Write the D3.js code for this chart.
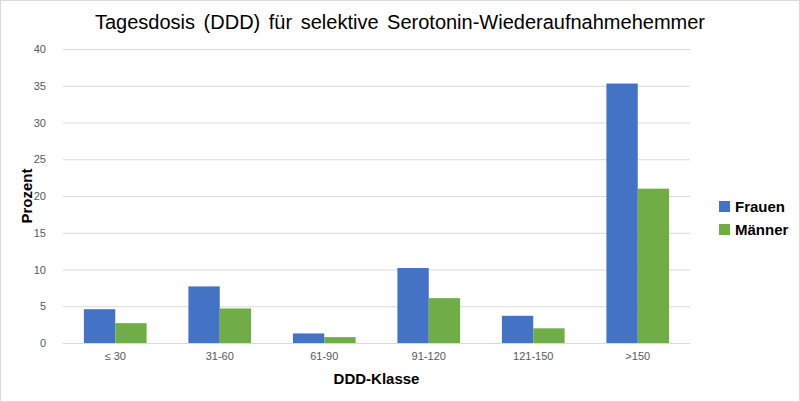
<!DOCTYPE html>
<html><head><meta charset="utf-8">
<script src="https://cdn.jsdelivr.net/npm/d3@7"></script>
<style>body{margin:0;background:#fff}svg{font-family:Arial,"Liberation Sans",sans-serif}</style>
</head><body>
<svg id="chart" width="800" height="402"></svg>
<script>
var categories = ["≤ 30", "31-60", "61-90", "91-120", "121-150", ">150"];
var frauen = [4.6, 7.7, 1.3, 10.2, 3.7, 35.3];
var maenner = [2.7, 4.7, 0.8, 6.1, 2.0, 21.0];
var seriesNames = ["Frauen", "Männer"];
var colors = ["#4472C4", "#70AD47"];
var yTicks = [0, 5, 10, 15, 20, 25, 30, 35, 40];

(function() {
  var svg = d3.select("#chart");
  svg.append("rect").attr("x", 0.5).attr("y", 0.5).attr("width", 799).attr("height", 401)
    .attr("fill", "#fff").attr("stroke", "#d9d9d9");

  var plotLeft = 63, plotRight = 690, plotTop = 49, plotBottom = 343;
  var x = d3.scaleBand().domain(categories).range([plotLeft, plotRight]).paddingInner(0.4).paddingOuter(0.2);
  var xs = d3.scaleBand().domain(seriesNames).range([0, x.bandwidth()]);
  var y = d3.scaleLinear().domain([0, 40]).range([plotBottom, plotTop]);

  svg.append("g").selectAll("line").data(yTicks).join("line")
    .attr("x1", plotLeft).attr("x2", plotRight).attr("y1", d => y(d) + 0.5).attr("y2", d => y(d) + 0.5)
    .attr("stroke", "#d9d9d9");

  svg.append("g").selectAll("text").data(yTicks).join("text")
    .attr("x", plotLeft - 17).attr("y", d => y(d) + 4).attr("text-anchor", "end")
    .attr("font-size", 11).attr("fill", "#595959").text(d => d);

  var data = categories.map((c, i) => ({c: c, vals: [frauen[i], maenner[i]]}));
  var g = svg.append("g").selectAll("g").data(data).join("g")
    .attr("transform", d => "translate(" + x(d.c) + ",0)");
  g.selectAll("rect").data(d => d.vals.map((v, k) => ({k: k, v: v}))).join("rect")
    .attr("x", d => xs(seriesNames[d.k])).attr("width", xs.bandwidth())
    .attr("y", d => y(d.v)).attr("height", d => plotBottom - y(d.v))
    .attr("fill", d => colors[d.k]);

  svg.append("line").attr("x1", plotLeft).attr("x2", plotRight)
    .attr("y1", plotBottom + 0.5).attr("y2", plotBottom + 0.5).attr("stroke", "#d9d9d9");

  svg.append("g").selectAll("text").data(categories).join("text")
    .attr("x", d => x(d) + x.bandwidth() / 2).attr("y", plotBottom + 17).attr("text-anchor", "middle")
    .attr("font-size", 11).attr("fill", "#595959").text(d => d);

  svg.append("text").attr("x", 400).attr("y", 29).attr("text-anchor", "middle")
    .attr("font-size", 20).attr("fill", "#000").attr("word-spacing", 3)
    .text("Tagesdosis (DDD) für selektive Serotonin-Wiederaufnahmehemmer");

  svg.append("text").attr("x", (plotLeft + plotRight) / 2).attr("y", 384)
    .attr("text-anchor", "middle").attr("font-size", 15).attr("font-weight", "bold").text("DDD-Klasse");

  svg.append("text").attr("transform", "translate(32,196) rotate(-90)").attr("text-anchor", "middle")
    .attr("font-size", 15).attr("font-weight", "bold").text("Prozent");

  var lg = svg.append("g").selectAll("g").data(seriesNames).join("g")
    .attr("transform", (d, i) => "translate(719," + (201 + i * 23) + ")");
  lg.append("rect").attr("width", 11).attr("height", 11).attr("fill", (d, i) => colors[i]);
  lg.append("text").attr("x", 16).attr("y", 11).attr("font-size", 15).attr("font-weight", "bold").text(d => d);
}());
</script>
</body></html>
